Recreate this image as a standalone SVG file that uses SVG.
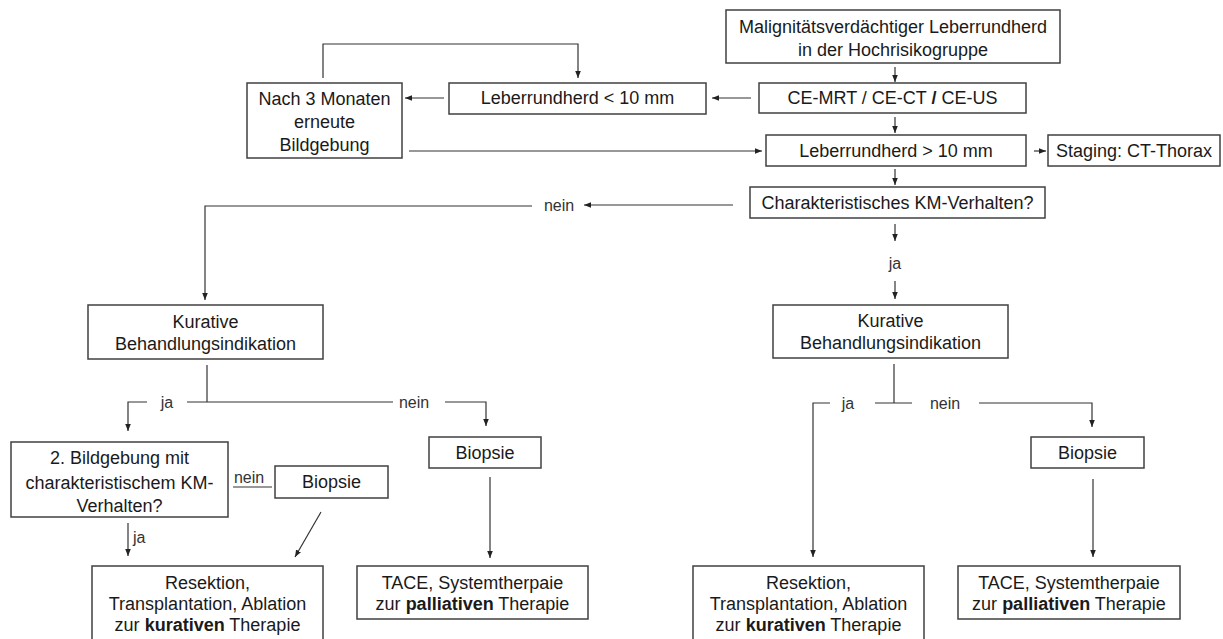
<svg xmlns="http://www.w3.org/2000/svg" width="1223" height="639" viewBox="0 0 1223 639">
<style>
  .box { fill: #ffffff; stroke: #404040; stroke-width: 1.5; }
  .t { font-family: "Liberation Sans", Arial, sans-serif; font-size: 18px; fill: #1a1a1a; text-anchor: middle; }
  .lbl { font-family: "Liberation Sans Narrow", "Liberation Sans", Arial, sans-serif; font-size: 16px; fill: #333333; text-anchor: middle; }
  .c { fill: none; stroke: #333333; stroke-width: 1.2; }
  .a { marker-end: url(#ah); }
  b, .b { font-weight: bold; }
</style>
<defs>
  <marker id="ah" viewBox="0 0 10 10" refX="10" refY="5" markerWidth="7" markerHeight="7" markerUnits="userSpaceOnUse" orient="auto">
    <path d="M0,1 L10,5 L0,9 z" fill="#222222"/>
  </marker>
</defs>
<rect width="1223" height="639" fill="#ffffff"/>

<g id="connectors">
  <line class="c a" x1="895" y1="67" x2="895" y2="82"/>
  <line class="c a" x1="751" y1="98" x2="712" y2="98"/>
  <line class="c a" x1="444" y1="98" x2="405" y2="98"/>
  <polyline class="c a" points="323,78 323,44 578,44 578,78"/>
  <line class="c a" x1="409" y1="151" x2="762" y2="151"/>
  <line class="c a" x1="895" y1="117" x2="895" y2="133"/>
  <line class="c a" x1="1034" y1="151" x2="1046" y2="151"/>
  <line class="c a" x1="895" y1="169" x2="895" y2="185"/>
  <line class="c a" x1="733" y1="205" x2="584" y2="205"/>
  <polyline class="c a" points="532,206 205,206 205,300"/>
  <line class="c a" x1="895" y1="224" x2="895" y2="241"/>
  <line class="c a" x1="895" y1="281" x2="895" y2="299"/>

  <line class="c" x1="207" y1="365" x2="207" y2="402"/>
  <line class="c" x1="187" y1="402" x2="393" y2="402"/>
  <polyline class="c a" points="445,402 486,402 486,426"/>
  <polyline class="c a" points="147,402 128,402 128,431"/>
  <line class="c" x1="233" y1="487" x2="272" y2="487"/>
  <line class="c a" x1="321" y1="512" x2="295" y2="557"/>
  <line class="c a" x1="128" y1="523" x2="128" y2="556"/>
  <line class="c a" x1="490" y1="477" x2="490" y2="558"/>

  <line class="c" x1="894" y1="364" x2="894" y2="403"/>
  <line class="c" x1="875" y1="403" x2="912" y2="403"/>
  <polyline class="c a" points="830,403 813,403 813,557"/>
  <polyline class="c a" points="979,403 1092,403 1092,427"/>
  <line class="c a" x1="1093" y1="479" x2="1093" y2="557"/>

  <text class="lbl" x="559" y="211">nein</text>
  <text class="lbl" x="895" y="269">ja</text>
  <text class="lbl" x="167" y="408">ja</text>
  <text class="lbl" x="414" y="408">nein</text>
  <text class="lbl" x="249" y="483">nein</text>
  <text class="lbl" x="133" y="543" style="text-anchor:start">ja</text>
  <text class="lbl" x="848" y="409">ja</text>
  <text class="lbl" x="945" y="409">nein</text>
</g>

<g id="n_start">
  <rect class="box" x="726" y="10" width="334" height="53"/>
  <text class="t" x="893" y="33">Malignitätsverdächtiger Leberrundherd</text>
  <text class="t" x="893" y="56">in der Hochrisikogruppe</text>
</g>
<g id="n_ce">
  <rect class="box" x="759" y="83" width="267" height="30"/>
  <text class="t" x="892.5" y="104">CE-MRT / CE-CT <tspan class="b">/</tspan> CE-US</text>
</g>
<g id="n_small">
  <rect class="box" x="449" y="83" width="257" height="31"/>
  <text class="t" x="577.5" y="104">Leberrundherd &lt; 10 mm</text>
</g>
<g id="n_wait">
  <rect class="box" x="247" y="83" width="155" height="75"/>
  <text class="t" x="324.5" y="105">Nach 3 Monaten</text>
  <text class="t" x="324.5" y="128">erneute</text>
  <text class="t" x="324.5" y="151">Bildgebung</text>
</g>
<g id="n_large">
  <rect class="box" x="766" y="135" width="260" height="31"/>
  <text class="t" x="896" y="157">Leberrundherd &gt; 10 mm</text>
</g>
<g id="n_staging">
  <rect class="box" x="1048" y="135" width="172" height="31"/>
  <text class="t" x="1134" y="157">Staging: CT-Thorax</text>
</g>
<g id="n_km">
  <rect class="box" x="750" y="187" width="295" height="31"/>
  <text class="t" x="897.5" y="209">Charakteristisches KM-Verhalten?</text>
</g>
<g id="n_kur_left">
  <rect class="box" x="88" y="305" width="235" height="54"/>
  <text class="t" x="205.5" y="328">Kurative</text>
  <text class="t" x="205.5" y="350">Behandlungsindikation</text>
</g>
<g id="n_kur_right">
  <rect class="box" x="773" y="305" width="235" height="53"/>
  <text class="t" x="890.5" y="327">Kurative</text>
  <text class="t" x="890.5" y="349">Behandlungsindikation</text>
</g>
<g id="n_bild2">
  <rect class="box" x="11" y="442" width="217" height="75"/>
  <text class="t" x="119.5" y="464">2. Bildgebung mit</text>
  <text class="t" x="119.5" y="489">charakteristischem KM-</text>
  <text class="t" x="119.5" y="512">Verhalten?</text>
</g>
<g id="n_bio_small">
  <rect class="box" x="275" y="466" width="113" height="32"/>
  <text class="t" x="331.5" y="488">Biopsie</text>
</g>
<g id="n_bio_left">
  <rect class="box" x="429" y="437" width="112" height="31"/>
  <text class="t" x="485" y="459">Biopsie</text>
</g>
<g id="n_bio_right">
  <rect class="box" x="1031" y="437" width="113" height="31"/>
  <text class="t" x="1087.5" y="459">Biopsie</text>
</g>
<g id="n_res_left">
  <rect class="box" x="92" y="566" width="231" height="84"/>
  <text class="t" x="207.5" y="589">Resektion,</text>
  <text class="t" x="207.5" y="610">Transplantation, Ablation</text>
  <text class="t" x="207.5" y="631">zur <tspan class="b">kurativen</tspan> Therapie</text>
</g>
<g id="n_tace_left">
  <rect class="box" x="357" y="566" width="231" height="53"/>
  <text class="t" x="472.5" y="589">TACE, Systemtherpaie</text>
  <text class="t" x="472.5" y="610">zur <tspan class="b">palliativen</tspan> Therapie</text>
</g>
<g id="n_res_right">
  <rect class="box" x="693" y="566" width="231" height="84"/>
  <text class="t" x="808.5" y="589">Resektion,</text>
  <text class="t" x="808.5" y="610">Transplantation, Ablation</text>
  <text class="t" x="808.5" y="631">zur <tspan class="b">kurativen</tspan> Therapie</text>
</g>
<g id="n_tace_right">
  <rect class="box" x="958" y="566" width="222" height="53"/>
  <text class="t" x="1069" y="589">TACE, Systemtherpaie</text>
  <text class="t" x="1069" y="610">zur <tspan class="b">palliativen</tspan> Therapie</text>
</g>
</svg>
